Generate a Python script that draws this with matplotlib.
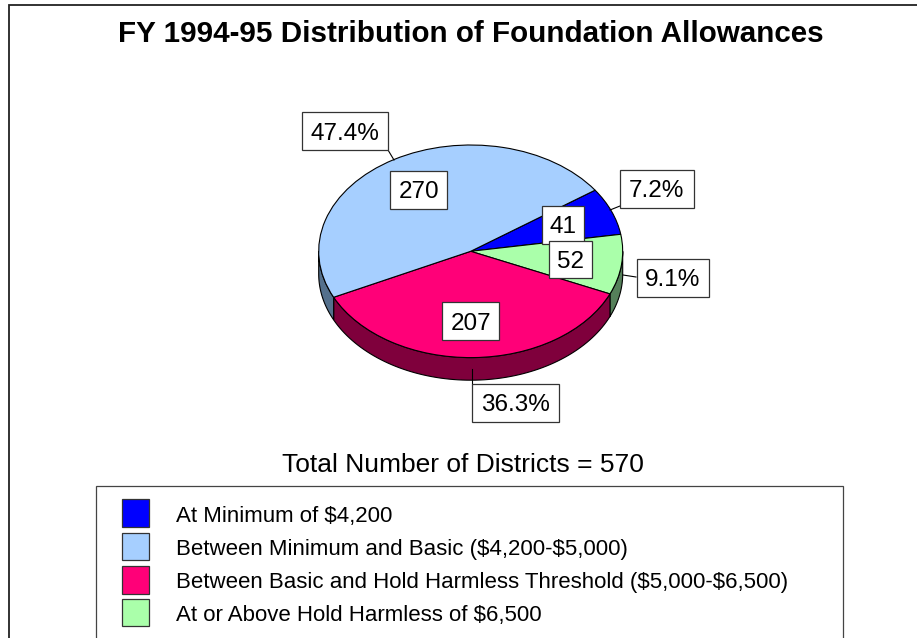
import numpy as np
import matplotlib
matplotlib.use("Agg")
import matplotlib.pyplot as plt
from matplotlib.patches import Rectangle

plt.rcParams['font.family'] = ['Liberation Sans', 'DejaVu Sans']

# Data, in the order the slices run clockwise round the pie
categories = [r"At Minimum of \$4,200",
              r"At or Above Hold Harmless of \$6,500",
              r"Between Basic and Hold Harmless Threshold (\$5,000-\$6,500)",
              r"Between Minimum and Basic (\$4,200-\$5,000)"]
districts = [41, 52, 207, 270]
pct_labels = ["7.2%", "9.1%", "36.3%", "47.4%"]
title = "FY 1994-95 Distribution of Foundation Allowances"
subtitle = "Total Number of Districts = 570"

colors = ["#0000FF", "#AAFFAA", "#FF0078", "#A6CFFF"]
side_colors = ["#00007F", "#55805A", "#7F003C", "#54708C"]
legend_order = [0, 3, 2, 1]

W, H = 917, 638
fig = plt.figure(figsize=(W / 100, H / 100), dpi=100)
bg = fig.add_axes([0, 0, 1, 1])
bg.set_xlim(0, W)
bg.set_ylim(H, 0)
bg.axis("off")

cx, cy, rx, ry, depth = 470.7, 251.3, 152, 106.3, 22.6
start_angle = 35.1

# side wall, only the lower half of the rim shows
a = start_angle
total = sum(districts)
for v, c in zip(districts, side_colors):
    sweep = 360.0 * v / total
    a0, a1 = a, a - sweep
    a = a1
    # clip to the front half: angles 0 to -180
    hi = min(a0, 0)
    lo = max(a1, -180)
    if hi <= lo:
        continue
    t = np.radians(np.linspace(hi, lo, 80))
    xs = cx + rx * np.cos(t)
    ys = cy - ry * np.sin(t)
    bg.fill(np.r_[xs, xs[::-1]], np.r_[ys, ys[::-1] + depth],
            fc=c, ec="black", lw=0.8, zorder=2)

# top face
pie_ax = fig.add_axes([(cx - rx) / W, 1 - (cy + ry) / H, 2 * rx / W, 2 * ry / H])
pie_ax.set_zorder(3)
pie_ax.patch.set_alpha(0)
pie_ax.pie(districts, colors=colors, startangle=start_angle, counterclock=False, radius=1,
           wedgeprops=dict(edgecolor="black", linewidth=0.8), frame=False)
pie_ax.set_aspect("auto")
pie_ax.set_xlim(-1, 1)
pie_ax.set_ylim(-1, 1)
pie_ax.axis("off")

over = fig.add_axes([0, 0, 1, 1])
over.set_zorder(5)
over.set_xlim(0, W)
over.set_ylim(H, 0)
over.axis("off")

# outer frame: left and top only, it runs off the picture on the other sides
over.plot([8.5, 8.5, W], [H, 4.5, 4.5], color="#222222", lw=1.3, solid_joinstyle="miter")


def box(x0, y0, x1, y1, text, fs=17.5):
    over.add_patch(Rectangle((x0, y0), x1 - x0, y1 - y0, fc="white", ec="#333333", lw=0.9, zorder=6))
    over.text((x0 + x1) / 2, y1 - 10.3, text, ha="center", va="baseline",
              fontsize=fs, color="black", zorder=7)


# leader lines
over.plot([388, 394], [150, 160], color="black", lw=0.8, zorder=5)
over.plot([610, 620], [210, 206], color="black", lw=0.8, zorder=5)
over.plot([623, 636], [275, 277], color="black", lw=0.8, zorder=5)
over.plot([472, 472], [369, 384], color="black", lw=0.8, zorder=5)

# value boxes
box(390.3, 171, 447, 208.7, str(districts[3]))
box(542, 206, 583.7, 243.5, str(districts[0]))
box(549.3, 241.3, 592.3, 278.3, str(districts[1]))
box(442.3, 302.3, 499.3, 340.3, str(districts[2]))

# percent boxes
box(301.7, 112, 388, 150, pct_labels[3])
box(619.5, 170, 694, 207.5, pct_labels[0])
box(636.5, 259, 708.5, 296.5, pct_labels[1])
box(471.7, 383.7, 558.6, 421.7, pct_labels[2])

over.text(470.5, 41.7, title, ha="center", va="baseline", fontsize=21.3, fontweight="bold")
over.text(463, 471.7, subtitle, ha="center", va="baseline", fontsize=19)

# legend
over.add_patch(Rectangle((95.5, 486), 747.5, 170, fc="white", ec="#444444", lw=0.9, clip_on=False))
swatch_y = [499, 532.7, 566, 598.7]
text_y = [522.3, 555, 588, 621]
for i, sy, ty in zip(legend_order, swatch_y, text_y):
    over.add_patch(Rectangle((122, sy), 27, 27.5, fc=colors[i], ec="#333333", lw=0.9))
    over.text(175.5, ty, categories[i], ha="left", va="baseline", fontsize=16)

fig.savefig("out.png", dpi=100, facecolor="white")
